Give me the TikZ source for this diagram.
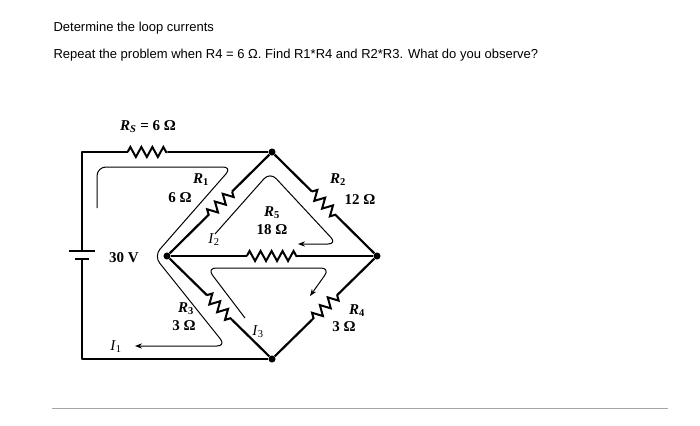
\documentclass[tikz,border=0pt]{standalone}
\usepackage{fontspec}
\setmainfont{Liberation Serif}
\newfontfamily\hdr{Liberation Sans}
\usetikzlibrary{decorations.pathmorphing,calc,arrows.meta}
\newcommand{\Rx}[1]{\textit{R}\textsubscript{#1}}
\newcommand{\Ix}[1]{\textit{I}\textsubscript{#1}}
\begin{document}
\begin{tikzpicture}[x=1pt,y=-1pt,
  wire/.style={line width=2.2pt,line join=round},
  zz/.style={line width=2pt,line join=miter,decorate,decoration={zigzag,amplitude=5,segment length=11}},
  loopc/.style={line width=1pt,rounded corners=9pt,-{Stealth[length=7pt]}},
  lab/.style={font=\fontsize{15}{16}\selectfont\bfseries,inner sep=0pt},
  cur/.style={font=\fontsize{15}{16}\selectfont,inner sep=0pt},
  hd/.style={anchor=west,font=\hdr\fontsize{13}{15}\selectfont},
  dot/.style={circle,fill,inner sep=2.5pt}]
\useasboundingbox (0,0) rectangle (700,425);
\node[hd] (t1) at (50,28) {Determine the loop currents};
\node[hd] (t2) at (50,55) {Repeat the problem when R4 = 6 Ω. Find R1*R4 and R2*R3. What do you observe?};
\coordinate (tl) at (82,152);
\coordinate (bl) at (82,359);
\node[dot] (T) at (272,152) {};
\node[dot] (B) at (272,359) {};
\node[dot] (L) at (167,256) {};
\node[dot] (R) at (377,256) {};
\coordinate (bt) at (82,251);
\coordinate (bb) at (82,259);
% wires
\draw[wire] (bt) -- (tl) -- ($(tl)!.24!(T)$);
\draw[zz] ($(tl)!.24!(T)$) -- ($(tl)!.45!(T)$);
\draw[wire] ($(tl)!.45!(T)$) -- (T);
\draw[wire] (bb) -- (bl) -- (B);
\draw[line width=1.6pt] (69,251) -- (95,251);
\draw[line width=2.6pt] (75,259) -- (89,259);
\foreach \a/\b in {T/L,T/R,L/B,R/B,L/R}{
  \draw[wire] (\a) -- ($(\a)!.38!(\b)$);
  \draw[zz] ($(\a)!.38!(\b)$) -- ($(\a)!.62!(\b)$);
  \draw[wire] ($(\a)!.62!(\b)$) -- (\b);}
% loops
\draw[loopc] (97,208) -- (97,167) -- (232,167) -- (154,256) -- (226,346) -- (135,346);
\draw[loopc] (215,234) -- (270,172) -- (337,244) -- (298,244);
\draw[loopc] (245,318) -- (207,268) -- (330,268) -- (310,296);
% labels
\node[lab] (ls) at (148,127) {\Rx{\textit{S}} = 6 Ω};
\node[lab] (l1) at (201,180) {\Rx{1}};
\node[lab] (l1v) at (180,198) {6 Ω};
\node[lab] (l2) at (338,180) {\Rx{2}};
\node[lab] (l2v) at (360,200) {12 Ω};
\node[lab] (l5) at (272,213) {\Rx{5}};
\node[lab] (l5v) at (272,230) {18 Ω};
\node[cur] (i2) at (214,240) {\Ix{2}};
\node[lab] (l3) at (186,309) {\Rx{3}};
\node[lab] (l3v) at (184,326) {3 Ω};
\node[cur] (i3) at (258,332) {\Ix{3}};
\node[lab] (l4) at (357,311) {\Rx{4}};
\node[lab] (l4v) at (344,327) {3 Ω};
\node[cur] (i1) at (116,347) {\Ix{1}};
\node[lab] (v) at (124,258) {30 V};
\draw[gray!70,line width=0.8pt] (52,408) -- (668,408);
\end{tikzpicture}
\end{document}
